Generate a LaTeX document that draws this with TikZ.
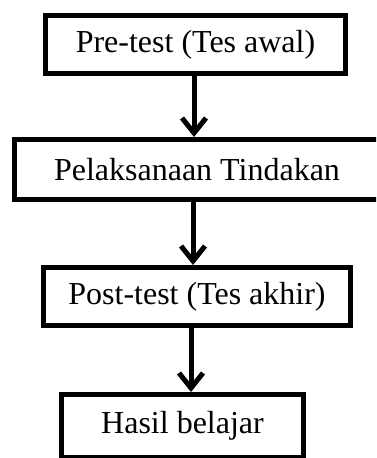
\documentclass[tikz,border=0pt]{standalone}
\usepackage{fontspec}
\setmainfont{Liberation Serif}
\usetikzlibrary{arrows.meta}

\begin{document}
\begin{tikzpicture}[
                    x=1pt, y=-1pt,
                    ->,
                    >={Straight Barb[length=15pt,width=24pt]},
                    line width=5pt,
                    box/.style={draw, rectangle, inner sep=0pt,
                                font=\fontsize{32}{38}\selectfont},
                ]
                \useasboundingbox (0,0) rectangle (376,458);
                \clip (0,0) rectangle (376,458);

                \node[box, minimum width=300pt, minimum height=58pt] (A) at (195.5,44.5) {Pre-test (Tes awal)};
                \node[box, minimum width=365pt, minimum height=60pt] (B) at (197,169.5) {Pelaksanaan Tindakan};
                \node[box, minimum width=307pt, minimum height=58pt] (C) at (197,296.5) {Post-test (Tes akhir)};
                \node[box, minimum width=242pt, minimum height=63pt] (D) at (182.5,426) {Hasil belajar};

                \draw ([xshift=-1.5pt]A.south) -- ([xshift=-1.5pt]A.south |- B.north);
                \draw ([xshift=-4pt]B.south) -- ([xshift=-4pt]B.south |- C.north);
                \draw ([xshift=-6pt]C.south) -- ([xshift=-6pt]C.south |- D.north);
            \end{tikzpicture}
\end{document}
